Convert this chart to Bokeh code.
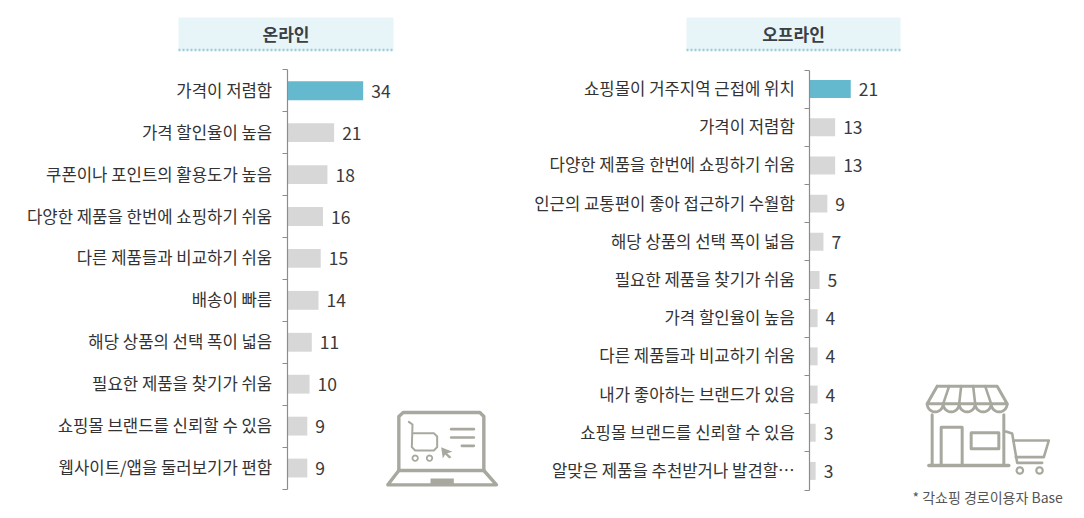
import math
from bokeh.core.properties import value
from bokeh.embed import file_html
from bokeh.models import (ColumnDataSource, FixedTicker, LinearAxis, Range1d)
from bokeh.plotting import figure
from bokeh.resources import INLINE

online_title = "온라인"
online_categories = ["가격이 저렴함", "가격 할인율이 높음", "쿠폰이나 포인트의 활용도가 높음",
                     "다양한 제품을 한번에 쇼핑하기 쉬움", "다른 제품들과 비교하기 쉬움", "배송이 빠름",
                     "해당 상품의 선택 폭이 넓음", "필요한 제품을 찾기가 쉬움",
                     "쇼핑몰 브랜드를 신뢰할 수 있음", "웹사이트/앱을 둘러보기가 편함"]
online_values = [34, 21, 18, 16, 15, 14, 11, 10, 9, 9]
offline_title = "오프라인"
offline_categories = ["쇼핑몰이 거주지역 근접에 위치", "가격이 저렴함", "다양한 제품을 한번에 쇼핑하기 쉬움",
                      "인근의 교통편이 좋아 접근하기 수월함", "해당 상품의 선택 폭이 넓음",
                      "필요한 제품을 찾기가 쉬움", "가격 할인율이 높음", "다른 제품들과 비교하기 쉬움",
                      "내가 좋아하는 브랜드가 있음", "쇼핑몰 브랜드를 신뢰할 수 있음",
                      "알맞은 제품을 추천받거나 발견할⋯"]
offline_values = [21, 13, 13, 9, 7, 5, 4, 4, 4, 3, 3]
footnote = "* 각쇼핑 경로이용자 Base"

FONT = "Noto Sans CJK KR"
W, H = 1076, 510
LEFT, TOP, BOTTOM, RIGHT = 0, 0, H, W

p = figure(width=W, height=H, output_backend="svg", toolbar_location=None,
           x_range=Range1d(LEFT, RIGHT), y_range=Range1d(BOTTOM, TOP),
           x_axis_type=None, y_axis_type=None,
           min_border=0, outline_line_color=None, background_fill_color="white")
p.grid.visible = False


def panel(name, cats, vals, axis_x, top, bottom, px_per_unit, bar_h, hdr, title):
    n = len(cats)
    u = (bottom - top) / n
    p.extra_x_ranges[name + "_x"] = Range1d((LEFT - axis_x) / px_per_unit, (RIGHT - axis_x) / px_per_unit)
    p.extra_y_ranges[name + "_y"] = Range1d((BOTTOM - top) / u, (TOP - top) / u)
    ys = [i + 0.5 for i in range(n)]
    colors = ["#65b9cf"] + ["#d7d7d7"] * (n - 1)
    src = ColumnDataSource(dict(y=ys, v=vals, c=colors, t=[str(v) for v in vals]))
    p.hbar(y="y", left=0, right="v", height=bar_h, fill_color="c", line_color=None, source=src,
           x_range_name=name + "_x", y_range_name=name + "_y")
    p.text(x="v", y="y", text="t", source=src, x_offset=8, y_offset=0.5, text_align="left", text_baseline="middle",
           text_font=value(FONT), text_font_size="17.5px", text_font_style="normal", text_color="#3a3a3a",
           x_range_name=name + "_x", y_range_name=name + "_y")
    a1 = LinearAxis(x_range_name=name + "_x", y_range_name=name + "_y", fixed_location=0,
                    ticker=FixedTicker(ticks=list(range(n + 1))), bounds=(0, n),
                    major_label_text_color=None, major_label_text_font_size="1px",
                    axis_line_color="#8c8c8c", axis_line_width=1.2,
                    major_tick_line_color="#8c8c8c", major_tick_in=0, major_tick_out=5,
                    minor_tick_line_color=None)
    label_ys = [y - 1.0 / u for y in ys]
    a2 = LinearAxis(x_range_name=name + "_x", y_range_name=name + "_y", fixed_location=0,
                    ticker=FixedTicker(ticks=label_ys), axis_line_color=None, major_tick_line_color=None,
                    minor_tick_line_color=None, major_tick_in=0, major_tick_out=0,
                    major_label_overrides={y: c for y, c in zip(label_ys, cats)},
                    major_label_standoff=15, major_label_text_font=FONT,
                    major_label_text_font_size="16.7px", major_label_text_color="#333333")
    p.add_layout(a1, "left")
    p.add_layout(a2, "left")
    # header
    x0, x1 = hdr
    p.quad(left=x0, right=x1, top=17, bottom=50, fill_color="#e8f5f8", line_color=None)
    p.line([x0, x1], [49.5, 49.5], line_color="#9ccbd9", line_width=2.5, line_dash=[2, 2])
    p.text(x=(x0 + x1) / 2, y=33, text=[title], text_align="center", text_baseline="middle",
           text_font=value(FONT), text_font_size="17px", text_font_style="bold", text_color="#3a3f44")


panel("on", online_categories, online_values, 286.7, 69.3, 488.5, 2.235, 0.45, (178, 393), online_title)
panel("off", offline_categories, offline_values, 809.3, 69.5, 489.5, 1.95, 0.47, (686, 900), offline_title)

ICON = "#a9a89f"


def ln(xs, ys, w=3.0):
    p.line(xs, ys, line_color=ICON, line_width=w, line_join="round", line_cap="round")


def circle(cx, cy, r, w=2.0, a0=0, a1=360):
    steps = 24
    xs = [cx + r * math.cos(math.radians(a0 + (a1 - a0) * i / steps)) for i in range(steps + 1)]
    ys = [cy + r * math.sin(math.radians(a0 + (a1 - a0) * i / steps)) for i in range(steps + 1)]
    ln(xs, ys, w)


def L(*pts):
    ln([370 + a / 3 for a, b in pts], [390 + b / 3 for a, b in pts], 3.4)


def Lt(w, *pts):
    ln([370 + a / 3 for a, b in pts], [390 + b / 3 for a, b in pts], w)


L((85, 240), (85, 78), (98, 66), (328, 66), (340, 78), (340, 240))
L((85, 240), (340, 240))
L((85, 240), (52, 283), (378, 283), (340, 240))
p.quad(left=370 + 180 / 3, right=370 + 250 / 3, top=390 + 264 / 3, bottom=390 + 284 / 3,
       fill_color=ICON, line_color=None)
Lt(2, (115, 94), (126, 102), (124, 170), (134, 180), (190, 180), (200, 170), (200, 138), (190, 128), (126, 128))
circle(370 + 134 / 3, 390 + 203 / 3, 2.7, 1.8)
circle(370 + 177 / 3, 390 + 203 / 3, 2.7, 1.8)
Lt(2.6, (242, 116), (310, 116))
Lt(2.6, (242, 141), (310, 141))
Lt(2.6, (274, 166), (310, 166))
p.patch([370 + a / 3 for a in (212, 246, 230, 243, 236, 224, 217)],
        [390 + b / 3 for b in (170, 184, 188, 200, 204, 192, 204)], fill_color=ICON, line_color=None)


def S(w, *pts):
    ln([900 + a / 3 for a, b in pts], [375 + b / 3 for a, b in pts], w)


S(3, (110, 32), (290, 32), (320, 85), (80, 85), (110, 32))
for top_x, bot_x in [(146, 128), (182, 176), (218, 224), (254, 272)]:
    S(2.6, (top_x, 32), (bot_x, 85))
for i in range(5):
    circle(900 + (104 + 48 * i) / 3, 375 + 85 / 3, 8, 2.8, 0, 180)
S(3, (95, 118), (95, 270))
S(3, (310, 118), (310, 270))
S(3.4, (85, 270), (325, 270))
S(3, (122, 270), (122, 155), (185, 155), (185, 270))
S(3, (212, 172), (295, 172), (295, 220), (212, 220), (212, 172))
S(2.6, (316, 168), (335, 174), (350, 262), (425, 262))
S(2.6, (338, 195), (445, 195), (430, 245), (346, 245))
circle(900 + 358 / 3, 375 + 285 / 3, 3.2, 2.2)
circle(900 + 417 / 3, 375 + 285 / 3, 3.2, 2.2)

p.text(x=912, y=496, text=[footnote], text_align="left", text_baseline="middle",
       text_font=value(FONT), text_font_size="14px", text_color="#555555")

open("out.html", "w").write(file_html(p, INLINE))
